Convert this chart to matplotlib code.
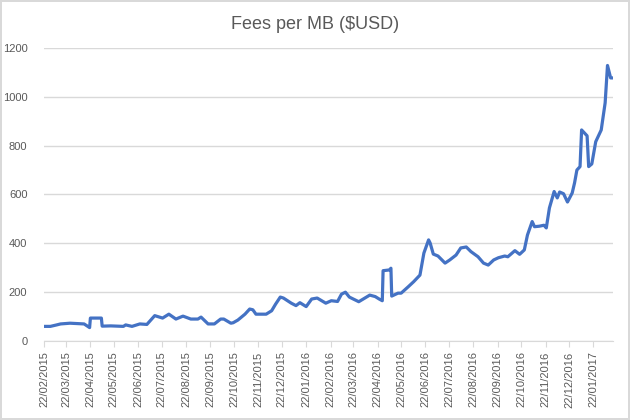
import pandas as pd
import matplotlib.pyplot as plt
import matplotlib.dates as mdates

# --- data ---
dates = ['2015-02-23', '2015-03-02', '2015-03-10', '2015-03-15', '2015-03-27', '2015-04-14',
         '2015-04-21', '2015-04-22', '2015-05-06', '2015-05-07', '2015-05-18', '2015-06-03',
         '2015-06-06', '2015-06-14', '2015-06-24', '2015-07-03', '2015-07-13', '2015-07-23',
         '2015-07-31', '2015-08-09', '2015-08-18', '2015-08-28', '2015-09-06', '2015-09-10',
         '2015-09-19', '2015-09-27', '2015-10-05', '2015-10-09', '2015-10-18', '2015-10-21',
         '2015-10-27', '2015-11-05', '2015-11-11', '2015-11-15', '2015-11-19', '2015-11-27',
         '2015-12-02', '2015-12-09', '2015-12-14', '2015-12-20', '2015-12-24', '2016-01-03',
         '2016-01-09', '2016-01-14', '2016-01-22', '2016-01-29', '2016-02-05', '2016-02-16',
         '2016-02-23', '2016-03-02', '2016-03-07', '2016-03-12', '2016-03-17', '2016-03-22',
         '2016-03-29', '2016-04-12', '2016-04-19', '2016-04-24', '2016-04-28', '2016-04-29',
         '2016-05-07', '2016-05-09', '2016-05-10', '2016-05-18', '2016-05-22', '2016-05-31',
         '2016-06-07', '2016-06-15', '2016-06-20', '2016-06-26', '2016-06-28', '2016-07-02',
         '2016-07-08', '2016-07-17', '2016-07-23', '2016-07-31', '2016-08-06', '2016-08-13',
         '2016-08-19', '2016-08-28', '2016-09-04', '2016-09-10', '2016-09-17', '2016-09-23',
         '2016-10-01', '2016-10-05', '2016-10-14', '2016-10-20', '2016-10-26', '2016-10-30',
         '2016-11-05', '2016-11-08', '2016-11-14', '2016-11-20', '2016-11-23', '2016-11-27',
         '2016-12-03', '2016-12-07', '2016-12-10', '2016-12-15', '2016-12-20', '2016-12-26',
         '2016-12-29', '2017-01-01', '2017-01-05', '2017-01-07', '2017-01-14', '2017-01-16',
         '2017-01-20', '2017-01-25', '2017-02-01', '2017-02-06', '2017-02-09', '2017-02-13',
         '2017-02-16']
fees = [60, 60, 66, 70, 73, 70,
        55, 94, 94, 61, 62, 60,
        66, 60, 70, 68, 104, 94,
        110, 90, 102, 90, 90, 98,
        70, 70, 90, 90, 73, 75,
        86, 110, 131, 128, 110, 110,
        110, 124, 151, 180, 176, 155,
        145, 157, 141, 172, 176, 155,
        165, 162, 192, 200, 180, 172,
        161, 188, 182, 172, 165, 288,
        291, 298, 184, 196, 196, 222,
        243, 270, 360, 414, 401, 356,
        348, 319, 332, 352, 381, 385,
        366, 345, 319, 311, 332, 341,
        348, 345, 370, 355, 373, 434,
        489, 468, 470, 474, 463, 545,
        612, 586, 610, 603, 569, 606,
        647, 700, 714, 864, 840, 714,
        725, 816, 864, 975, 1128, 1077,
        1077]
# monthly ticks on the 22nd
tick_dates = pd.date_range('2015-02-01', '2017-01-01', freq='MS') + pd.Timedelta(days=21)

df = pd.DataFrame({'date': pd.to_datetime(dates), 'fees': fees})

grey_txt = '#595959'
grid_col = '#D9D9D9'
plt.rcParams['font.family'] = ['Liberation Sans', 'DejaVu Sans']

fig = plt.figure(figsize=(6.3, 4.2), dpi=100)
fig.patch.set_edgecolor('#D9D9D9')
fig.patch.set_linewidth(1.5)
ax = fig.add_axes([0.070, 0.188, 0.903, 0.698])

ax.plot(df['date'], df['fees'], color='#4472C4', lw=2.3, solid_joinstyle='round')

ax.set_ylim(0, 1200)
ax.set_yticks(range(0, 1201, 200))
ax.set_xlim(pd.Timestamp('2015-02-22'), pd.Timestamp('2017-02-16'))
ax.set_xticks(tick_dates)
ax.xaxis.set_major_formatter(mdates.DateFormatter('%d/%m/%Y'))
ax.tick_params(axis='x', rotation=90, labelsize=8, colors=grey_txt, length=4, color=grid_col)
ax.tick_params(axis='y', labelsize=8, colors=grey_txt, length=0, pad=12)

ax.grid(axis='y', color=grid_col, lw=1)
ax.set_axisbelow(True)
for s in ['top', 'right', 'left']:
    ax.spines[s].set_visible(False)
ax.spines['bottom'].set_color(grid_col)

fig.suptitle('Fees per MB ($USD)', x=0.5, y=0.962, fontsize=13, color=grey_txt)

fig.savefig('out.png', dpi=100, edgecolor=fig.get_edgecolor())
